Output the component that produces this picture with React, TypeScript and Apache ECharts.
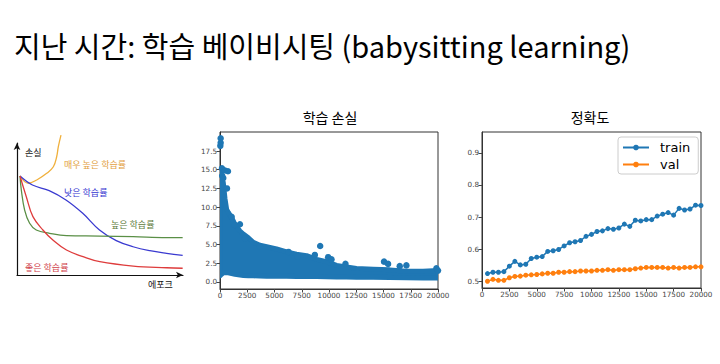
import React, { useEffect, useRef } from "react";
import * as echarts from "echarts";

// ---- texts ----
const mainTitle = "지난 시간: 학습 베이비시팅 (babysitting learning)";
const lossTitle = "학습 손실";
const accTitle = "정확도";
const schemYLabel = "손실";
const schemXLabel = "에포크";
const curveNames = ["매우 높은 학습률", "낮은 학습률", "높은 학습률", "좋은 학습률"];

// ---- schematic curves (epoch 0..100, loss 0..100) ----
const curveVeryHigh = [[1.8, 75], [6.8, 69.5], [11.9, 72], [17.9, 77], [21.9, 82], [23.9, 89.6], [24.9, 97.2], [26.5, 106]];
const curveLow = [[1.8, 75], [9.3, 68.2], [19.4, 63.9], [29.5, 56.8], [39.6, 46.7], [49.7, 34.1], [59.8, 26], [69.9, 21.4], [80, 18.4], [90.1, 16.4], [99.8, 14.9]];
const curveHigh = [[1.8, 75], [2.6, 64.4], [4.6, 49.2], [7.6, 39.2], [11.6, 34.1], [19.6, 31.6], [29.8, 29.8], [49.9, 29.5], [70, 29], [90.1, 28.3], [99.8, 28.3]];
const curveGood = [[1.8, 75], [5.6, 59.3], [9.6, 44.2], [15.6, 34.1], [21.6, 26.5], [29.8, 18.9], [39.8, 13.9], [49.9, 10.1], [70, 6.8], [90.1, 5.5], [99.8, 5.1]];

// ---- training loss ----
const lossTicks = [0, 2.5, 5, 7.5, 10, 12.5, 15, 17.5];
const lossBandX = [0, 60, 300, 460, 610, 760, 1070, 1370, 1830, 2140, 2600, 3050, 3660, 4280, 5190, 6110, 7020, 7940, 8860, 9770, 10690, 11600, 12520, 14050, 15570, 17100, 18630, 20000];
const lossBandLow = [0.8, 0.9, 1.2, 1.2, 1.2, 1.2, 1.1, 1.0, 0.9, 0.85, 0.8, 0.8, 0.78, 0.76, 0.75, 0.74, 0.72, 0.7, 0.7, 0.68, 0.66, 0.64, 0.62, 0.6, 0.58, 0.55, 0.52, 0.5];
const lossBandHigh = [14.6, 14.6, 13.3, 11.1, 9.7, 9.3, 8.6, 7.7, 6.8, 6.4, 5.9, 5.3, 4.9, 4.7, 4.4, 4.0, 3.7, 3.5, 3.0, 2.7, 2.2, 2.0, 1.8, 1.7, 1.6, 1.4, 1.4, 1.5];
const lossOutliers = [
  [60, 19.2], [60, 18.6], [30, 18.2], [180, 15.2], [460, 14.9], [730, 14.8], [200, 14.2], [300, 13.9],
  [640, 12.5], [1070, 8.7], [1830, 7.7], [1370, 7.6], [2290, 5.8], [3660, 4.7], [6290, 4.0],
  [7115, 3.4], [8700, 3.6], [9190, 4.8], [9920, 3.3], [10230, 3.0], [11510, 2.4], [15050, 2.7],
  [15420, 2.4], [16490, 2.1], [17100, 2.2], [19850, 1.8], [20000, 1.5],
];

// ---- accuracy ----
const accTicks = [0.5, 0.6, 0.7, 0.8, 0.9];
const accSteps = [500, 1000, 1500, 2000, 2500, 3000, 3500, 4000, 4500, 5000, 5500, 6000, 6500, 7000, 7500, 8000, 8500, 9000, 9500, 10000, 10500, 11000, 11500, 12000, 12500, 13000, 13500, 14000, 14500, 15000, 15500, 16000, 16500, 17000, 17500, 18000, 18500, 19000, 19500, 20000];
const trainAcc = [0.524, 0.528, 0.528, 0.530, 0.547, 0.562, 0.551, 0.553, 0.571, 0.575, 0.577, 0.593, 0.595, 0.599, 0.610, 0.620, 0.623, 0.627, 0.640, 0.646, 0.655, 0.657, 0.664, 0.662, 0.666, 0.678, 0.671, 0.690, 0.688, 0.692, 0.692, 0.703, 0.709, 0.714, 0.706, 0.727, 0.722, 0.725, 0.737, 0.736];
const valAcc = [0.500, 0.506, 0.503, 0.503, 0.511, 0.515, 0.516, 0.519, 0.520, 0.521, 0.523, 0.525, 0.525, 0.528, 0.528, 0.530, 0.530, 0.532, 0.532, 0.532, 0.534, 0.534, 0.536, 0.534, 0.536, 0.536, 0.536, 0.539, 0.541, 0.543, 0.543, 0.543, 0.543, 0.541, 0.543, 0.541, 0.543, 0.543, 0.545, 0.545];

const BLUE = "#1f77b4";
const ORANGE = "#ff7f0e";
const CJK = "'Noto Sans CJK KR', sans-serif";
const TICKFONT = "'DejaVu Sans', sans-serif";

const zip = (xs: number[], ys: number[]) => xs.map((x, i) => [x, ys[i]]);

export default function App() {
  const ref = useRef<HTMLDivElement>(null);
  useEffect(() => {
    if (!ref.current) return;
    const chart = echarts.init(ref.current, undefined, { renderer: "svg" });

    const tickAxisCommon = {
      axisLine: { show: true, onZero: false, lineStyle: { color: "#333", width: 1 } },
      axisTick: { show: true, length: 3.5, lineStyle: { color: "#444" } },
      splitLine: { show: false },
    };
    const labelStyle = { fontSize: 7.2, color: "#444", fontFamily: TICKFONT, margin: 3 };
    const plainFmt = (v: number) => String(v);

    const schemAxis = {
      type: "value" as const,
      min: 0,
      max: 100,
      axisLine: {
        show: true,
        onZero: false,
        symbol: ["none", "arrow"],
        symbolSize: [5, 7],
        lineStyle: { color: "#111", width: 1.2 },
      },
      axisTick: { show: false },
      axisLabel: { show: false },
      splitLine: { show: false },
    };

    const schemLine = (name: string, data: number[][], color: string, clip = true) => ({
      name,
      type: "line",
      xAxisIndex: 0,
      yAxisIndex: 0,
      data,
      smooth: 0.4,
      showSymbol: false,
      clip,
      lineStyle: { color, width: 1.3 },
      silent: true,
    });

    chart.setOption({
      animation: false,
      backgroundColor: "#fff",
      grid: [
        { left: 17, top: 143, width: 166, height: 132 },
        { left: 220, top: 132, width: 218, height: 157, show: true, borderColor: "#333", borderWidth: 1, backgroundColor: "transparent" },
        { left: 482, top: 132, width: 219, height: 156, show: true, borderColor: "#333", borderWidth: 1, backgroundColor: "transparent" },
      ],
      xAxis: [
        { gridIndex: 0, ...schemAxis },
        {
          gridIndex: 1, type: "value", min: 0, max: 20000, interval: 2500,
          ...tickAxisCommon,
          axisLabel: { ...labelStyle, formatter: plainFmt, showMinLabel: true, showMaxLabel: true, hideOverlap: false },
        },
        {
          gridIndex: 2, type: "value", min: 0, max: 20000, interval: 2500,
          ...tickAxisCommon,
          axisLabel: { ...labelStyle, formatter: plainFmt, showMinLabel: true, showMaxLabel: true, hideOverlap: false },
        },
      ],
      yAxis: [
        { gridIndex: 0, ...schemAxis },
        {
          gridIndex: 1, type: "value", min: -0.96, max: 20.05,
          ...tickAxisCommon,
          axisTick: { show: true, length: 3.5, lineStyle: { color: "#444" }, customValues: lossTicks },
          axisLabel: { ...labelStyle, customValues: lossTicks, formatter: (v: number) => v.toFixed(1) },
        },
        {
          gridIndex: 2, type: "value", min: 0.479, max: 0.965,
          ...tickAxisCommon,
          axisTick: { show: true, length: 3.5, lineStyle: { color: "#444" }, customValues: accTicks },
          axisLabel: { ...labelStyle, customValues: accTicks, formatter: (v: number) => v.toFixed(1) },
        },
      ],
      legend: {
        data: ["train", "val"],
        orient: "vertical",
        left: 618,
        top: 137,
        backgroundColor: "#fff",
        borderColor: "#ccc",
        borderWidth: 1,
        borderRadius: 3,
        padding: [4, 8, 3, 4],
        itemGap: 4,
        itemWidth: 26,
        itemHeight: 7,
        textStyle: { fontSize: 13, fontFamily: TICKFONT, color: "#000", padding: [0, 0, 0, 6] },
      },
      series: [
        schemLine(curveNames[0], curveVeryHigh, "#f0b03c", false),
        schemLine(curveNames[1], curveLow, "#3a3ad0"),
        schemLine(curveNames[2], curveHigh, "#5a8f46"),
        schemLine(curveNames[3], curveGood, "#de3c3c"),
        {
          name: "lossBand",
          type: "custom",
          xAxisIndex: 1,
          yAxisIndex: 1,
          data: [[0, 0]],
          silent: true,
          renderItem: (params: any, api: any) => {
            const top = lossBandX.map((x, i) => api.coord([x, lossBandHigh[i]]));
            const bottom = lossBandX.map((x, i) => api.coord([x, lossBandLow[i]])).reverse();
            const cs = params.coordSys;
            return {
              type: "polygon",
              shape: { points: top.concat(bottom) },
              style: { fill: BLUE, stroke: BLUE, lineWidth: 5, lineJoin: "round" },
              clipPath: { type: "rect", shape: { x: cs.x, y: cs.y, width: cs.width, height: cs.height } },
            };
          },
        },
        {
          name: "lossOutliers",
          type: "scatter",
          xAxisIndex: 1,
          yAxisIndex: 1,
          data: lossOutliers,
          symbolSize: 6.5,
          itemStyle: { color: BLUE, opacity: 1 },
          silent: true,
        },
        {
          name: "train",
          type: "line",
          xAxisIndex: 2,
          yAxisIndex: 2,
          data: zip(accSteps, trainAcc),
          symbol: "circle",
          symbolSize: 5,
          lineStyle: { color: BLUE, width: 1.5 },
          itemStyle: { color: BLUE },
        },
        {
          name: "val",
          type: "line",
          xAxisIndex: 2,
          yAxisIndex: 2,
          data: zip(accSteps, valAcc),
          symbol: "circle",
          symbolSize: 5,
          lineStyle: { color: ORANGE, width: 1.5 },
          itemStyle: { color: ORANGE },
        },
      ],
      graphic: [
        { type: "text", x: 14, y: 45, style: { text: mainTitle, font: `29px ${CJK}`, fill: "#000", textVerticalAlign: "middle" } },
        { type: "text", x: 330, y: 117, style: { text: lossTitle, font: `14px ${CJK}`, fill: "#000", textAlign: "center", textVerticalAlign: "middle" } },
        { type: "text", x: 590, y: 117, style: { text: accTitle, font: `14px ${CJK}`, fill: "#000", textAlign: "center", textVerticalAlign: "middle" } },
        { type: "text", x: 25, y: 152, style: { text: schemYLabel, font: `9px ${CJK}`, fill: "#111", textVerticalAlign: "middle" } },
        { type: "text", x: 148, y: 284, style: { text: schemXLabel, font: `9px ${CJK}`, fill: "#111", textVerticalAlign: "middle" } },
        { type: "text", x: 64, y: 164, style: { text: curveNames[0], font: `9px ${CJK}`, fill: "#e2a040", textVerticalAlign: "middle" } },
        { type: "text", x: 64, y: 192, style: { text: curveNames[1], font: `9px ${CJK}`, fill: "#3535d0", textVerticalAlign: "middle" } },
        { type: "text", x: 111, y: 224, style: { text: curveNames[2], font: `9px ${CJK}`, fill: "#5d7a3a", textVerticalAlign: "middle" } },
        { type: "text", x: 25, y: 267, style: { text: curveNames[3], font: `9px ${CJK}`, fill: "#d0404a", textVerticalAlign: "middle" } },
      ],
    });
    return () => chart.dispose();
  }, []);
  return (
    <div
      ref={ref}
      style={{ position: "fixed", left: 0, top: 0, width: 720, height: 364, background: "#fff" }}
    />
  );
}
